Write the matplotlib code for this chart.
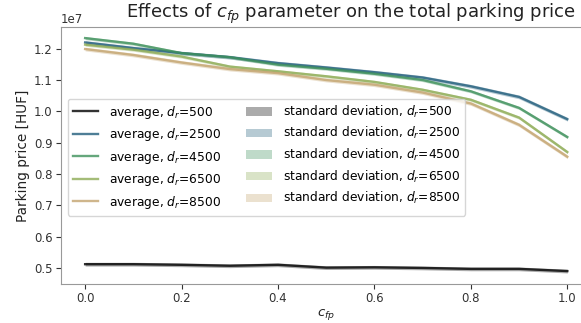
import matplotlib.pyplot as plt
import numpy as np

plt.rcParams['font.family'] = 'DejaVu Sans'

# c_fp parameter values
c_fp = [0.0, 0.1, 0.2, 0.3, 0.4, 0.5, 0.6, 0.7, 0.8, 0.9, 1.0]

# average total parking price (1e7 HUF) for each d_r
d_r = [500, 2500, 4500, 6500, 8500]
avg_500 = [0.512, 0.512, 0.510, 0.507, 0.510, 0.501, 0.502, 0.500, 0.497, 0.497, 0.490]
avg_2500 = [1.220, 1.202, 1.186, 1.173, 1.154, 1.140, 1.125, 1.108, 1.080, 1.046, 0.975]
avg_4500 = [1.234, 1.216, 1.186, 1.173, 1.149, 1.136, 1.120, 1.100, 1.064, 1.011, 0.918]
avg_6500 = [1.213, 1.197, 1.175, 1.143, 1.128, 1.112, 1.094, 1.069, 1.037, 0.980, 0.870]
avg_8500 = [1.199, 1.180, 1.156, 1.135, 1.122, 1.100, 1.085, 1.060, 1.025, 0.957, 0.855]

# standard deviation (1e7 HUF)
std_500 = [0.006, 0.006, 0.006, 0.006, 0.006, 0.006, 0.006, 0.006, 0.006, 0.006, 0.006]
std_2500 = [0.006, 0.006, 0.006, 0.006, 0.006, 0.006, 0.006, 0.006, 0.006, 0.006, 0.006]
std_4500 = [0.005, 0.005, 0.005, 0.005, 0.005, 0.005, 0.005, 0.005, 0.005, 0.005, 0.005]
std_6500 = [0.005, 0.005, 0.005, 0.005, 0.005, 0.005, 0.005, 0.005, 0.005, 0.005, 0.005]
std_8500 = [0.006, 0.006, 0.006, 0.006, 0.006, 0.006, 0.006, 0.006, 0.006, 0.006, 0.006]

averages = [avg_500, avg_2500, avg_4500, avg_6500, avg_8500]
stds = [std_500, std_2500, std_4500, std_6500, std_8500]
colors = plt.cm.gist_earth(np.linspace(0, 0.8, len(d_r)))

fig = plt.figure(figsize=(5.81, 3.23), dpi=100)
ax = fig.add_axes([0.105, 0.121, 0.913, 0.796])

x = np.array(c_fp)
line_handles = []
fill_handles = []
for d, avg, sd, col in zip(d_r, averages, stds, colors):
    avg = np.array(avg) * 1e7
    sd = np.array(sd) * 1e7
    h, = ax.plot(x, avg, color=col, alpha=0.8, linewidth=1.7, label=f'average, $d_r$={d}')
    f = ax.fill_between(x, avg - sd, avg + sd, color=col, alpha=0.33, linewidth=0,
                        label=f'standard deviation, $d_r$={d}')
    line_handles.append(h)
    fill_handles.append(f)

ax.set_xlim(-0.05, 1.05)
ax.set_ylim(0.449e7, 1.270e7)
ax.set_xticks([0.0, 0.2, 0.4, 0.6, 0.8, 1.0])
ax.set_yticks([0.5e7, 0.6e7, 0.7e7, 0.8e7, 0.9e7, 1.0e7, 1.1e7, 1.2e7])

for sp in ax.spines.values():
    sp.set_color('#999999')
ax.tick_params(colors='#333333', labelsize=8.5, pad=2.5)
ax.yaxis.get_offset_text().set_fontsize(8.5)

ax.set_xlabel('$c_{fp}$', fontsize=9.5, color='#222222', labelpad=1)
ax.set_ylabel('Parking price [HUF]', fontsize=9.8, color='#222222', labelpad=3)
ax.set_title('Effects of $c_{fp}$ parameter on the total parking price', fontsize=13,
             color='#222222', x=0.547)

ax.legend(line_handles + fill_handles,
          [h.get_label() for h in line_handles] + [f.get_label() for f in fill_handles],
          ncol=2, loc='upper left', bbox_to_anchor=(0.013, 0.72), borderaxespad=0,
          fontsize=8.8, handlelength=2.1, handletextpad=0.9, columnspacing=2.0,
          labelspacing=0.45, framealpha=0.8, edgecolor='#cccccc')

fig.savefig('out.png', dpi=100)
